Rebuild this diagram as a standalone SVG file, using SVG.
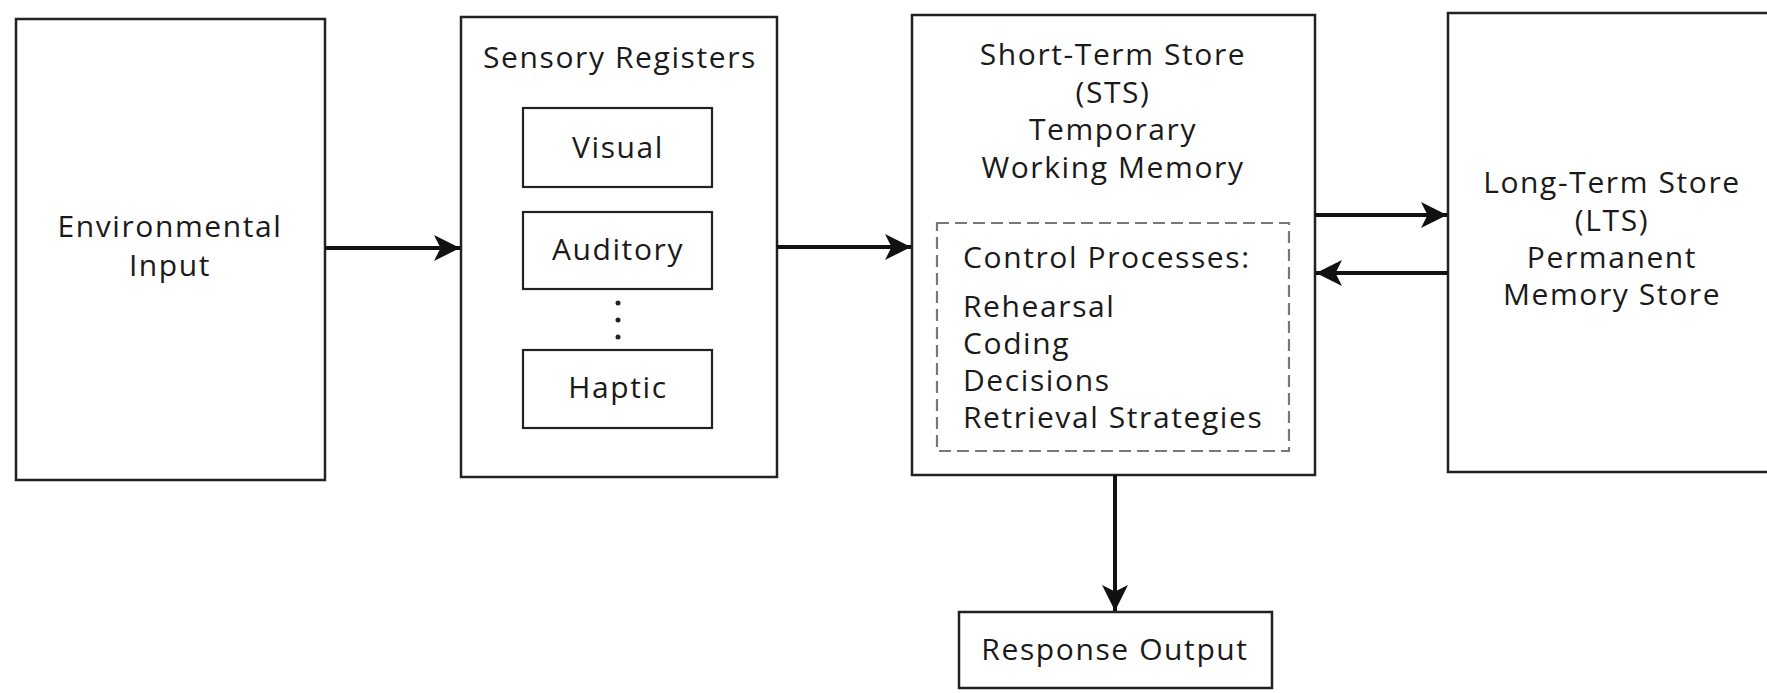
<svg xmlns="http://www.w3.org/2000/svg" width="1767" height="693" viewBox="0 0 1767 693">
<defs>
<marker id="ah" viewBox="0 0 10 10" refX="10" refY="5" markerWidth="26" markerHeight="26" markerUnits="userSpaceOnUse" orient="auto">
<path d="M0,0 L10,5 L0,10 L2.5,5 Z" fill="#111"/>
</marker>
<style>
.box{fill:#fff;stroke:#222;stroke-width:2.5}
.sub{fill:#fff;stroke:#222;stroke-width:2.2}
.dash{fill:none;stroke:#777;stroke-width:2.2;stroke-dasharray:12 6}
.t{font-family:"Open Sans","Noto Sans",sans-serif;font-size:30px;fill:#1a1a1a;letter-spacing:1.6px}
.c{text-anchor:middle}
.conn{stroke:#111;stroke-width:4;fill:none;marker-end:url(#ah)}
</style>
</defs>
<rect width="1767" height="693" fill="#fff"/>
<g id="env">
<rect class="box" x="16" y="19" width="309" height="461"/>
<text class="t c" x="170" y="237">Environmental</text>
<text class="t c" x="170" y="276">Input</text>
</g>
<g id="sensory">
<rect class="box" x="461" y="17" width="316" height="460"/>
<text class="t c" x="620" y="68">Sensory Registers</text>
<g id="visual">
<rect class="sub" x="523" y="108" width="189" height="79"/>
<text class="t c" x="618" y="158">Visual</text>
</g>
<g id="auditory">
<rect class="sub" x="523" y="212" width="189" height="77"/>
<text class="t c" x="618" y="260">Auditory</text>
</g>
<g id="dots">
<circle cx="618" cy="303" r="2.5" fill="#222"/>
<circle cx="618" cy="320" r="2.5" fill="#222"/>
<circle cx="618" cy="337" r="2.5" fill="#222"/>
</g>
<g id="haptic">
<rect class="sub" x="523" y="350" width="189" height="78"/>
<text class="t c" x="618" y="398">Haptic</text>
</g>
</g>
<g id="sts">
<rect class="box" x="912" y="15" width="403" height="460"/>
<text class="t c" x="1113" y="65">Short-Term Store</text>
<text class="t c" x="1113" y="103">(STS)</text>
<text class="t c" x="1113" y="140">Temporary</text>
<text class="t c" x="1113" y="178">Working Memory</text>
<g id="control">
<rect class="dash" x="937" y="223" width="352" height="228"/>
<text class="t" x="963" y="268">Control Processes:</text>
<text class="t" x="963" y="317">Rehearsal</text>
<text class="t" x="963" y="354">Coding</text>
<text class="t" x="963" y="391">Decisions</text>
<text class="t" x="963" y="428">Retrieval Strategies</text>
</g>
</g>
<g id="lts">
<rect class="box" x="1448" y="13" width="330" height="459"/>
<text class="t c" x="1612" y="193">Long-Term Store</text>
<text class="t c" x="1612" y="231">(LTS)</text>
<text class="t c" x="1612" y="268">Permanent</text>
<text class="t c" x="1612" y="305">Memory Store</text>
</g>
<g id="response">
<rect class="box" x="959" y="612" width="313" height="76"/>
<text class="t c" x="1115" y="660">Response Output</text>
</g>
<g id="connectors">
<line class="conn" x1="325" y1="248" x2="460" y2="248"/>
<line class="conn" x1="777" y1="247" x2="911" y2="247"/>
<line class="conn" x1="1315" y1="215" x2="1447" y2="215"/>
<line class="conn" x1="1448" y1="273" x2="1316" y2="273"/>
<line class="conn" x1="1115" y1="475" x2="1115" y2="611"/>
</g>
</svg>
